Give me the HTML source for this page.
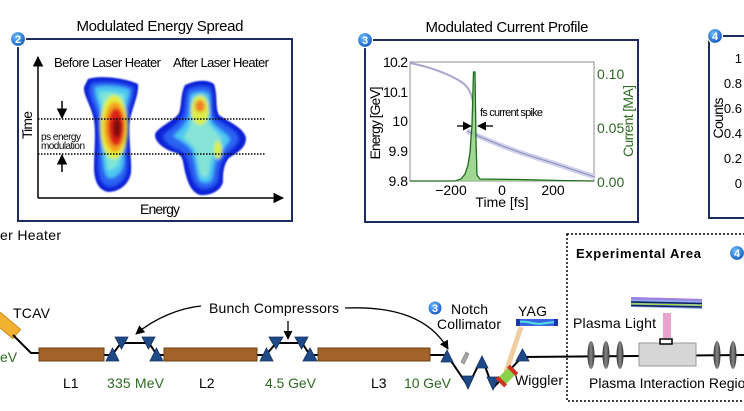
<!DOCTYPE html>
<html><head><meta charset="utf-8"><style>
html,body{margin:0;padding:0;background:#fff;}
svg{display:block;font-family:"Liberation Sans",Arial,sans-serif;}
</style></head><body>
<svg width="744" height="411" viewBox="0 0 744 411" xmlns="http://www.w3.org/2000/svg">
<defs>
<radialGradient id="cg" cx="40%" cy="35%" r="65%"><stop offset="0" stop-color="#6cc0ff"/><stop offset="1" stop-color="#1559c0"/></radialGradient>
<filter id="bl" x="-20%" y="-20%" width="140%" height="140%"><feGaussianBlur stdDeviation="1.5"/></filter>
<filter id="bl1" x="-20%" y="-20%" width="140%" height="140%"><feGaussianBlur stdDeviation="0.7"/></filter>
<marker id="ah" viewBox="0 0 10 10" refX="9" refY="5" markerWidth="7" markerHeight="7" orient="auto"><path d="M0,0 L10,5 L0,10 z" fill="#000"/></marker>
<linearGradient id="lens" x1="0" x2="1"><stop offset="0" stop-color="#333"/><stop offset="0.5" stop-color="#888"/><stop offset="1" stop-color="#333"/></linearGradient>
</defs>

<!-- ===== Panel 2 ===== -->
<text x="160" y="31" font-size="15" text-anchor="middle" textLength="167">Modulated Energy Spread</text>
<rect x="18" y="39" width="274" height="182" fill="none" stroke="#1d2b5e" stroke-width="2"/>
<line x1="38" y1="198" x2="38" y2="57" stroke="#000" stroke-width="1.5" marker-end="url(#ah)"/>
<line x1="38" y1="198" x2="283" y2="198" stroke="#000" stroke-width="1.5" marker-end="url(#ah)"/>
<text transform="translate(32,125) rotate(-90)" font-size="14" text-anchor="middle" textLength="28">Time</text>
<text x="160" y="214" font-size="14" text-anchor="middle" textLength="40">Energy</text>
<text x="54" y="67" font-size="13" textLength="107">Before Laser Heater</text>
<text x="173" y="67" font-size="13" textLength="96">After Laser Heater</text>

<!-- blob 1 -->
<path d="M88,79 C100,75 125,78 138,84 C139,95 133,105 130,120 C128,135 132,160 131,173 C129,184 120,192 108,192 C99,190 95,183 94,170 C94,150 96,135 94,120 C91,105 83,95 84,87 Z" fill="#1020d8" filter="url(#bl1)"/>
<g filter="url(#bl)">
<path d="M91,83 C103,80 124,82 134,87 C134,97 129,107 127,120 C125,135 128,158 127,171 C125,180 118,187 109,187 C102,185 99,179 98,168 C98,150 100,135 98,120 C95,106 88,96 89,89 Z" fill="#2a62f2"/>
<path d="M95,87 C106,85 122,86 130,90 C129,100 125,109 123,121 C122,136 125,156 123,167 C120,175 114,179 108,178 C104,173 103,162 102,150 C102,135 103,125 101,115 C99,103 94,95 95,87 Z" fill="#4cc6f2"/>
<path d="M99,92 C108,91 120,92 125,95 C124,104 121,112 120,123 C119,137 121,153 119,163 C116,169 111,171 108,170 C106,163 106,155 105,146 C105,133 106,124 104,114 C102,104 99,97 99,92 Z" fill="#7ce6d8"/>
<ellipse cx="114" cy="127" rx="14" ry="32" fill="#e2ee38"/>
<ellipse cx="115" cy="127" rx="11" ry="25" fill="#f5a020"/>
<ellipse cx="116" cy="127" rx="8" ry="19" fill="#dc2414"/>
<ellipse cx="117" cy="128" rx="4" ry="10" fill="#7a0808"/>
</g>

<!-- blob 2 -->
<path d="M185,85 C195,80 208,79 214,84 C218,95 215,108 219,115 C229,122 244,128 246,138 C246,149 236,153 229,158 C223,165 223,175 223,182 C221,191 210,196 200,195 C191,192 188,183 185,172 C183,162 183,156 177,153 C167,151 154,143 155,134 C159,126 174,121 179,113 C182,105 180,95 185,85 Z" fill="#1020d8" filter="url(#bl1)"/>
<g filter="url(#bl)">
<path d="M188,89 C196,85 207,85 211,88 C214,98 211,110 215,118 C225,125 237,130 239,138 C238,146 230,150 225,156 C219,164 219,174 218,181 C215,187 208,190 202,189 C195,187 192,179 190,170 C188,161 187,156 181,151 C172,148 162,141 163,135 C169,129 179,124 183,115 C186,105 184,96 188,89 Z" fill="#2a62f2"/>
<path d="M191,94 C198,91 205,91 209,94 C211,104 209,114 212,122 C219,130 228,134 230,139 C228,146 221,150 217,157 C213,166 214,175 211,181 C207,184 202,183 199,180 C196,171 195,161 192,151 C189,145 179,140 173,136 C180,130 187,124 189,114 C190,105 189,99 191,94 Z" fill="#4cc6f2"/>
<path d="M193,98 C199,96 204,96 207,99 C208,108 207,116 209,124 C214,131 220,135 222,139 C220,145 215,149 212,156 C209,165 210,173 207,177 C204,178 202,177 200,174 C198,166 198,158 195,150 C193,145 186,141 183,137 C188,132 191,124 192,115 C193,107 192,101 193,98 Z" fill="#86e4d6"/>
<ellipse cx="200" cy="110" rx="9" ry="15" fill="#dcee44"/>
<ellipse cx="200" cy="106" rx="5" ry="6" fill="#f08020"/>
<ellipse cx="218" cy="150" rx="4" ry="9" fill="#d8f040"/>
</g>

<line x1="38" y1="119" x2="266" y2="119" stroke="#000" stroke-width="1.5" stroke-dasharray="1.5,1.5"/>
<line x1="38" y1="154" x2="266" y2="154" stroke="#000" stroke-width="1.5" stroke-dasharray="1.5,1.5"/>
<line x1="62" y1="101" x2="62" y2="118" stroke="#000" stroke-width="1.5" marker-end="url(#ah)"/>
<line x1="62" y1="172" x2="62" y2="155" stroke="#000" stroke-width="1.5" marker-end="url(#ah)"/>
<text x="41" y="140" font-size="10" textLength="40">ps energy</text>
<text x="41" y="149" font-size="10" textLength="44">modulation</text>

<circle cx="18" cy="39" r="7.5" fill="url(#cg)" stroke="#fff" stroke-width="1.2"/>
<text x="18" y="43" font-size="11" font-weight="bold" fill="#fff" text-anchor="middle">2</text>

<!-- ===== Panel 3 ===== -->
<text x="507" y="32" font-size="15" text-anchor="middle" textLength="163">Modulated Current Profile</text>
<rect x="365" y="40" width="273" height="182" fill="none" stroke="#1d2b5e" stroke-width="2"/>
<rect x="410" y="62" width="184" height="119" fill="none" stroke="#8c8c8c" stroke-width="1"/>
<!-- energy curve -->
<path d="M410,63 C430,67 448,74 460,81 C468,86 471,92 473,102 L474,112" fill="none" stroke="#a8a8d0" stroke-width="2"/>
<path d="M467,131 C478,136 490,141 500,145 C515,151 530,156 550,162 C565,167 580,172 595,177" fill="none" stroke="#d0d0ea" stroke-width="5"/>
<path d="M467,131 C478,136 490,141 500,145 C515,151 530,156 550,162 C565,167 580,172 595,177" fill="none" stroke="#8c8cc0" stroke-width="1"/>
<!-- current spike -->
<path d="M455,181 L461,179 L465,174 L468,165 L470,152 L472,125 L473.5,72 L475,72 L476,140 L477,175 L480,179 L520,179.5 L560,180.5 L594,181 Z" fill="#8fd07f" opacity="0.85"/>
<path d="M410,181 L455,181 L461,179 L465,174 L468,165 L470,152 L472,125 L473.5,72 L475,72 L476,140 L477,175 L480,179 L520,179.5 L560,180.5 L594,181" fill="none" stroke="#1f6b1f" stroke-width="1.3"/>
<line x1="457" y1="126" x2="471" y2="126" stroke="#000" stroke-width="1.3" marker-end="url(#ah)"/>
<line x1="493" y1="126" x2="478" y2="126" stroke="#000" stroke-width="1.3" marker-end="url(#ah)"/>
<text x="480" y="116" font-size="11" textLength="63">fs current spike</text>
<g font-size="14" text-anchor="end">
<text x="408" y="67" textLength="25">10.2</text>
<text x="408" y="97" textLength="25">10.1</text>
<text x="408" y="126">10</text>
<text x="408" y="156">9.9</text>
<text x="408" y="186">9.8</text>
</g>
<g font-size="14" fill="#2d6a22">
<text x="597" y="79">0.10</text>
<text x="597" y="133">0.05</text>
<text x="597" y="187">0.00</text>
</g>
<g font-size="14" text-anchor="middle">
<text x="451" y="195">−200</text>
<text x="502" y="195">0</text>
<text x="553" y="195">200</text>
<text x="502" y="207">Time [fs]</text>
</g>
<text transform="translate(380,123) rotate(-90)" font-size="14" text-anchor="middle" textLength="73">Energy [GeV]</text>
<text transform="translate(633,121) rotate(-90)" font-size="14" text-anchor="middle" fill="#2d6a22" textLength="72">Current [MA]</text>
<circle cx="365" cy="40" r="7.5" fill="url(#cg)" stroke="#fff" stroke-width="1.2"/>
<text x="365" y="44" font-size="11" font-weight="bold" fill="#fff" text-anchor="middle">3</text>

<!-- ===== Panel 4 (partial) ===== -->
<path d="M750,36 L709,36 L709,218 L750,218" fill="none" stroke="#1d2b5e" stroke-width="2"/>
<g font-size="13" text-anchor="end">
<text x="742" y="63">1</text>
<text x="742" y="88">0.8</text>
<text x="742" y="113">0.6</text>
<text x="742" y="138">0.4</text>
<text x="742" y="163">0.2</text>
<text x="742" y="188">0</text>
</g>
<text transform="translate(723,118) rotate(-90)" font-size="14" text-anchor="middle" textLength="41">Counts</text>
<circle cx="715" cy="36" r="7.5" fill="url(#cg)" stroke="#fff" stroke-width="1.2"/>
<text x="715" y="40" font-size="11" font-weight="bold" fill="#fff" text-anchor="middle">4</text>

<!-- ===== Beamline ===== -->
<text x="0" y="240" font-size="14" textLength="61">er Heater</text>
<text x="13" y="318" font-size="14" textLength="37">TCAV</text>
<text x="0" y="362" font-size="14" fill="#2d6a22">eV</text>
<rect x="-8" y="319" width="28" height="12" fill="#f2b230" stroke="#c88a18" transform="rotate(40 6 325)"/>
<polyline points="13,335 31,353 39,353" fill="none" stroke="#000" stroke-width="2"/>

<g stroke="#000" stroke-width="2" fill="none">
<polyline points="104,355 112,355 121,343 149,343 157,355 164,355"/>
<polyline points="257,355 266,355 276,343 302,343 310,355 318,355"/>
<polyline points="430,355 447,355 468,386 482,358 493,388 522,357 744,355"/>
</g>
<g fill="#a2622a" stroke="#6f4015" stroke-width="1">
<rect x="39" y="348" width="65" height="13"/>
<rect x="164" y="348" width="93" height="13"/>
<rect x="318" y="348" width="112" height="13"/>
</g>
<g fill="#1f4a88" stroke="#12305e" stroke-width="0.8">
<polygon points="106,361 119,361 112.5,348"/>
<polygon points="115,337 128,337 121.5,349"/>
<polygon points="142,337 155,337 148.5,349"/>
<polygon points="150,361 163,361 156.5,348"/>
<polygon points="260,361 273,361 266.5,348"/>
<polygon points="269,337 283,337 276,349"/>
<polygon points="295,337 308,337 301.5,349"/>
<polygon points="303,361 317,361 310,348"/>
<polygon points="441,362 453,362 447,350"/>
<polygon points="462,376 474,376 468,389"/>
<polygon points="476,368 488,368 482,356"/>
<polygon points="487,377 499,377 493,390"/>
<polygon points="516,361 529,361 522.5,349"/>
</g>
<polygon points="461,362 466,352 469,354 464,364" fill="#a8a8a8" stroke="#777" stroke-width="0.6"/>

<g font-size="14">
<text x="63" y="388">L1</text>
<text x="107" y="388" fill="#2d6a22" textLength="57">335 MeV</text>
<text x="199" y="388">L2</text>
<text x="265" y="388" fill="#2d6a22" textLength="51">4.5 GeV</text>
<text x="371" y="388">L3</text>
<text x="404" y="388" fill="#2d6a22" textLength="47">10 GeV</text>
<text x="209" y="313" textLength="130">Bunch Compressors</text>
<text x="451" y="314" textLength="37">Notch</text>
<text x="437" y="329" textLength="64">Collimator</text>
<text x="518" y="316" textLength="29">YAG</text>
<text x="515" y="385" textLength="48">Wiggler</text>
<text x="573" y="328" textLength="83">Plasma Light</text>
<text x="589" y="388">Plasma Interaction Region</text>
</g>
<path d="M201,306 C180,308 155,318 136,334" fill="none" stroke="#000" stroke-width="1.3" marker-end="url(#ah)"/>
<path d="M345,308 C395,306 430,318 448,349" fill="none" stroke="#000" stroke-width="1.3" marker-end="url(#ah)"/>
<line x1="288" y1="321" x2="288" y2="339" stroke="#000" stroke-width="1.3" marker-end="url(#ah)"/>

<circle cx="435" cy="308" r="7" fill="url(#cg)" stroke="#fff" stroke-width="1"/>
<text x="435" y="312" font-size="11" font-weight="bold" fill="#fff" text-anchor="middle">3</text>

<line x1="506" y1="372" x2="521" y2="327" stroke="#f0c898" stroke-width="5" opacity="0.9"/>
<rect x="516" y="319" width="42" height="7" fill="#3a64e0"/>
<path d="M519,322 C528,320 534,326 546,323 L555,322" fill="none" stroke="#50e0e0" stroke-width="2"/>
<rect x="516" y="319" width="4" height="7" fill="#1a34b0"/>
<rect x="554" y="319" width="4" height="7" fill="#1a34b0"/>
<g transform="translate(507,376) rotate(-45)">
<rect x="-8" y="-5" width="16" height="10" fill="#8ad048"/>
<rect x="-10" y="-6" width="4" height="12" fill="#d03020"/>
<rect x="6" y="-6" width="4" height="12" fill="#d03020"/>
</g>

<rect x="567" y="234" width="200" height="167" fill="none" stroke="#000" stroke-width="1.5" stroke-dasharray="2,2"/>
<text x="576" y="258" font-size="13" font-weight="bold" textLength="125">Experimental Area</text>
<circle cx="737" cy="253" r="7.5" fill="url(#cg)" stroke="#fff" stroke-width="1.2"/>
<text x="737" y="257" font-size="11" font-weight="bold" fill="#fff" text-anchor="middle">4</text>
<g fill="url(#lens)">
<ellipse cx="591" cy="355" rx="3.5" ry="14"/>
<ellipse cx="606" cy="355" rx="3.5" ry="14"/>
<ellipse cx="620" cy="355" rx="3.5" ry="14"/>
<ellipse cx="717" cy="355" rx="3.5" ry="14"/>
<ellipse cx="733" cy="355" rx="3.5" ry="14"/>
</g>
<rect x="639" y="343" width="57" height="23" fill="#d6d6d6" stroke="#999" stroke-width="1"/>
<rect x="663" y="313" width="8" height="25" fill="#e8a4cc"/>
<rect x="660" y="339" width="12" height="5" fill="#fff" stroke="#000" stroke-width="1.5"/>
<polygon points="631,297 702,299 702,309 631,307" fill="#8fb0f0"/>
<polygon points="631,297 702,299 702,301 631,299.5" fill="#a080e0"/>
<line x1="631" y1="302" x2="702" y2="303.5" stroke="#102060" stroke-width="1.6"/>
<line x1="631" y1="303.8" x2="702" y2="305.2" stroke="#a0e040" stroke-width="1.2"/>
<line x1="631" y1="305.5" x2="702" y2="307" stroke="#102060" stroke-width="1.6"/>
</svg>
</body></html>
